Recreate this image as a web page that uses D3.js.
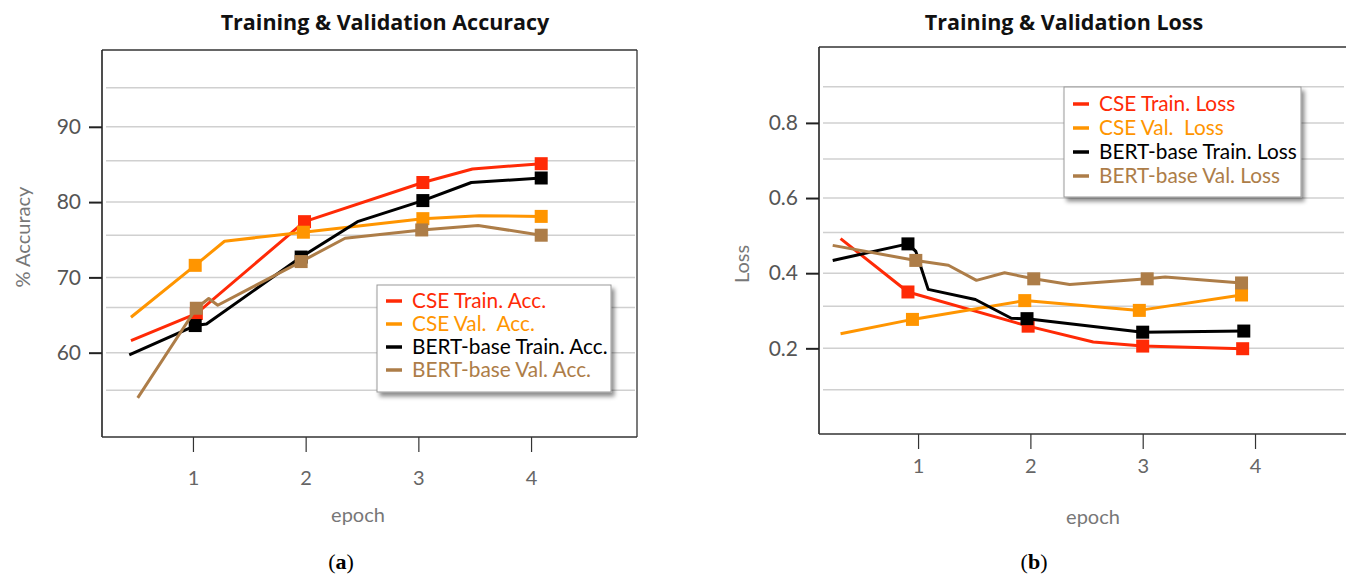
<!DOCTYPE html>
<html>
<head>
<meta charset="utf-8">
<script src="https://cdn.jsdelivr.net/npm/d3@7"></script>
<style>
  html, body { margin: 0; padding: 0; background: #fff; }
  svg { display: block; }
</style>
</head>
<body>
<svg id="chart" width="1347" height="575"></svg>
<script>
// ---------- DATA ----------
const epochTicks = [1, 2, 3, 4];
const accTicks = [60, 70, 80, 90];
const accMinorGrid = [55, 66, 75.6, 85.5, 95.2];
const lossTicks = [0.2, 0.4, 0.6, 0.8];
const lossMinorGrid = [0.09, 0.312, 0.508, 0.704, 0.896];

const accSeriesNames = ["CSE Train. Acc.", "CSE Val.  Acc.", "BERT-base Train. Acc.", "BERT-base Val. Acc."];
const lossSeriesNames = ["CSE Train. Loss", "CSE Val.  Loss", "BERT-base Train. Loss", "BERT-base Val. Loss"];
const seriesColors = ["#ff2a06", "#ff9500", "#000000", "#ad7d48"];

// Accuracy (panel a)
const cseTrainAccEpoch = [0.45, 1.03, 1.99, 3.04, 3.48, 4.09];
const cseTrainAccValue = [61.6, 65.2, 77.4, 82.6, 84.4, 85.1];
const cseTrainAccMarked = [1, 2, 3, 5];

const cseValAccEpoch = [0.45, 1.02, 1.28, 1.98, 3.04, 3.54, 4.09];
const cseValAccValue = [64.7, 71.6, 74.8, 76.0, 77.8, 78.2, 78.1];
const cseValAccMarked = [1, 3, 4, 6];

const bertTrainAccEpoch = [0.435, 1.02, 1.12, 1.96, 2.46, 3.04, 3.47, 4.09];
const bertTrainAccValue = [59.7, 63.6, 63.8, 72.7, 77.4, 80.2, 82.6, 83.2];
const bertTrainAccMarked = [1, 3, 5, 7];

const bertValAccEpoch = [0.51, 1.03, 1.14, 1.22, 1.96, 2.35, 3.03, 3.53, 4.09];
const bertValAccValue = [54.0, 65.9, 67.2, 66.3, 72.1, 75.2, 76.3, 76.9, 75.6];
const bertValAccMarked = [1, 4, 6, 8];

// Loss (panel b)
const cseTrainLossEpoch = [0.31, 0.91, 1.98, 2.56, 3.00, 3.89];
const cseTrainLossValue = [0.492, 0.350, 0.259, 0.217, 0.206, 0.199];
const cseTrainLossMarked = [1, 2, 4, 5];

const cseValLossEpoch = [0.31, 0.95, 1.95, 2.97, 3.88];
const cseValLossValue = [0.239, 0.277, 0.327, 0.301, 0.342];
const cseValLossMarked = [1, 2, 3, 4];

const bertTrainLossEpoch = [0.24, 0.91, 0.98, 1.09, 1.51, 1.83, 1.97, 3.00, 3.90];
const bertTrainLossValue = [0.434, 0.478, 0.458, 0.357, 0.330, 0.280, 0.279, 0.243, 0.246];
const bertTrainLossMarked = [1, 6, 7, 8];

const bertValLossEpoch = [0.24, 0.98, 1.27, 1.52, 1.77, 2.03, 2.35, 3.04, 3.20, 3.88];
const bertValLossValue = [0.474, 0.434, 0.421, 0.381, 0.401, 0.385, 0.370, 0.385, 0.390, 0.374];
const bertValLossMarked = [1, 5, 7, 9];

// ---------- DRAW ----------
const svg = d3.select("#chart");
svg.append("rect").attr("width", 1347).attr("height", 575).attr("fill", "#fff");

const defs = svg.append("defs");
const f = defs.append("filter").attr("id", "shadow").attr("x", "-10%").attr("y", "-10%").attr("width", "130%").attr("height", "140%");
f.append("feDropShadow").attr("dx", 3).attr("dy", 4).attr("stdDeviation", 2.2).attr("flood-color", "#000").attr("flood-opacity", 0.45);

function makeSeries(ep, val, marked) {
  return { pts: ep.map((e, i) => [e, val[i]]), marked };
}

function drawPanel(cfg) {
  const g = svg.append("g");
  const x = d3.scaleLinear().domain(cfg.xDomain).range([cfg.left, cfg.right]);
  const y = d3.scaleLinear().domain(cfg.yDomain).range([cfg.bottom, cfg.top]);

  // grid lines
  const gridVals = cfg.yTicks.concat(cfg.minorGrid);
  g.selectAll(".grid").data(gridVals).join("line")
    .attr("x1", cfg.left + 4).attr("x2", cfg.right - 2)
    .attr("y1", d => y(d)).attr("y2", d => y(d))
    .attr("stroke", "#d0d0d0").attr("stroke-width", 1.5);

  // frame
  g.append("line").attr("x1", cfg.left).attr("x2", cfg.right).attr("y1", cfg.top).attr("y2", cfg.top)
    .attr("stroke", "#333").attr("stroke-width", 1.3);
  if (cfg.rightBorder) {
    g.append("line").attr("x1", cfg.right).attr("x2", cfg.right).attr("y1", cfg.top).attr("y2", cfg.bottom)
      .attr("stroke", "#333").attr("stroke-width", 1.3);
  }

  // y axis
  const yAxis = d3.axisLeft(y).tickValues(cfg.yTicks).tickSize(13).tickPadding(8).tickFormat(cfg.yFormat);
  const ya = g.append("g").attr("transform", `translate(${cfg.left},0)`).call(yAxis);
  ya.select(".domain").attr("stroke", "#222").attr("stroke-width", 1.6).attr("d", `M0,${cfg.top}V${cfg.bottom}`);
  ya.selectAll(".tick line").attr("stroke", "#222").attr("stroke-width", 2);
  ya.selectAll(".tick text").attr("fill", "#555").style("font-family", "Lato, 'Open Sans', sans-serif").style("font-size", "21px");

  // x axis
  const xAxis = d3.axisBottom(x).tickValues(epochTicks).tickSize(cfg.xTickSize).tickPadding(cfg.xTickPad).tickFormat(d3.format("d"));
  const xa = g.append("g").attr("transform", `translate(0,${cfg.bottom})`).call(xAxis);
  xa.select(".domain").attr("stroke", "#333").attr("stroke-width", 1.6).attr("d", `M${cfg.left},0H${cfg.right}`);
  xa.selectAll(".tick line").attr("stroke", "#333").attr("stroke-width", 1.2);
  xa.selectAll(".tick text").attr("fill", "#666").style("font-family", "Lato, 'Open Sans', sans-serif").style("font-size", "20px");

  // titles & labels
  svg.append("text").attr("x", cfg.titleX).attr("y", 30).attr("text-anchor", "middle")
    .style("font-family", "'Open Sans', 'Noto Sans', sans-serif").style("font-weight", "bold").style("font-size", "21.5px")
    .attr("fill", "#111").text(cfg.title);
  svg.append("text").attr("x", cfg.xLabelX).attr("y", cfg.xLabelY).attr("text-anchor", "middle")
    .style("font-family", "Lato, sans-serif").style("font-size", "20px").attr("fill", "#777").text("epoch");
  svg.append("text").attr("transform", `translate(${cfg.yLabelX},${cfg.yLabelY}) rotate(-90)`).attr("text-anchor", "middle")
    .style("font-family", "Lato, sans-serif").style("font-size", "20px").attr("fill", "#777").text(cfg.yLabel);

  const sub = svg.append("text").attr("x", cfg.subX).attr("y", 569).attr("text-anchor", "middle")
    .style("font-family", "'Liberation Serif', 'DejaVu Serif', serif").style("font-size", "22px").attr("fill", "#000");
  sub.append("tspan").text("(");
  sub.append("tspan").style("font-weight", "bold").text(cfg.subLetter);
  sub.append("tspan").text(")");

  // series
  const line = d3.line().x(d => x(d[0])).y(d => y(d[1]));
  cfg.series.forEach((s, i) => {
    g.append("path").datum(s.pts).attr("d", line).attr("fill", "none")
      .attr("stroke", seriesColors[i]).attr("stroke-width", 3).attr("stroke-linejoin", "round");
    const ms = 13;
    g.selectAll(null).data(s.marked.map(k => s.pts[k])).join("rect")
      .attr("x", d => x(d[0]) - ms / 2).attr("y", d => y(d[1]) - ms / 2)
      .attr("width", ms).attr("height", ms).attr("fill", seriesColors[i]);
  });

  // legend
  const lg = svg.append("g");
  lg.append("rect").attr("x", cfg.legend.x).attr("y", cfg.legend.y).attr("width", cfg.legend.w).attr("height", cfg.legend.h)
    .attr("fill", "#fff").attr("stroke", "#999").attr("stroke-width", 1).attr("filter", "url(#shadow)");
  cfg.names.forEach((n, i) => {
    const ry = cfg.legend.y + cfg.legend.row0 + i * cfg.legend.step;
    lg.append("line").attr("x1", cfg.legend.x + 9).attr("x2", cfg.legend.x + 25).attr("y1", ry).attr("y2", ry)
      .attr("stroke", seriesColors[i]).attr("stroke-width", 3.5);
    lg.append("text").attr("x", cfg.legend.x + 35).attr("y", ry).attr("dy", "0.35em")
      .style("font-family", "Lato, sans-serif").style("font-size", "20.8px").style("white-space", "pre")
      .attr("fill", seriesColors[i]).text(n);
  });
}

drawPanel({
  left: 102, right: 637, top: 50, bottom: 437,
  xDomain: [0.193, 4.94], yDomain: [48.8, 100.2],
  yTicks: accTicks, minorGrid: accMinorGrid, yFormat: d3.format("d"),
  xTickSize: 15, xTickPad: 19,
  rightBorder: true,
  title: "Training & Validation Accuracy", titleX: 385,
  yLabel: "% Accuracy", yLabelX: 30, yLabelY: 237,
  xLabelX: 358, xLabelY: 522,
  subX: 341, subLetter: "a",
  names: accSeriesNames,
  series: [
    makeSeries(cseTrainAccEpoch, cseTrainAccValue, cseTrainAccMarked),
    makeSeries(cseValAccEpoch, cseValAccValue, cseValAccMarked),
    makeSeries(bertTrainAccEpoch, bertTrainAccValue, bertTrainAccMarked),
    makeSeries(bertValAccEpoch, bertValAccValue, bertValAccMarked)
  ],
  legend: { x: 377, y: 285, w: 234, h: 107, row0: 16, step: 23 }
});

drawPanel({
  left: 819, right: 1346, top: 47, bottom: 434,
  xDomain: [0.118, 4.81], yDomain: [-0.028, 1.002],
  yTicks: lossTicks, minorGrid: lossMinorGrid, yFormat: d3.format(".1f"),
  xTickSize: 15, xTickPad: 10,
  rightBorder: false,
  title: "Training & Validation Loss", titleX: 1064,
  yLabel: "Loss", yLabelX: 749, yLabelY: 264,
  xLabelX: 1093, xLabelY: 524,
  subX: 1034, subLetter: "b",
  names: lossSeriesNames,
  series: [
    makeSeries(cseTrainLossEpoch, cseTrainLossValue, cseTrainLossMarked),
    makeSeries(cseValLossEpoch, cseValLossValue, cseValLossMarked),
    makeSeries(bertTrainLossEpoch, bertTrainLossValue, bertTrainLossMarked),
    makeSeries(bertValLossEpoch, bertValLossValue, bertValLossMarked)
  ],
  legend: { x: 1064, y: 87, w: 237, h: 110, row0: 17, step: 24 }
});
</script>
</body>
</html>
